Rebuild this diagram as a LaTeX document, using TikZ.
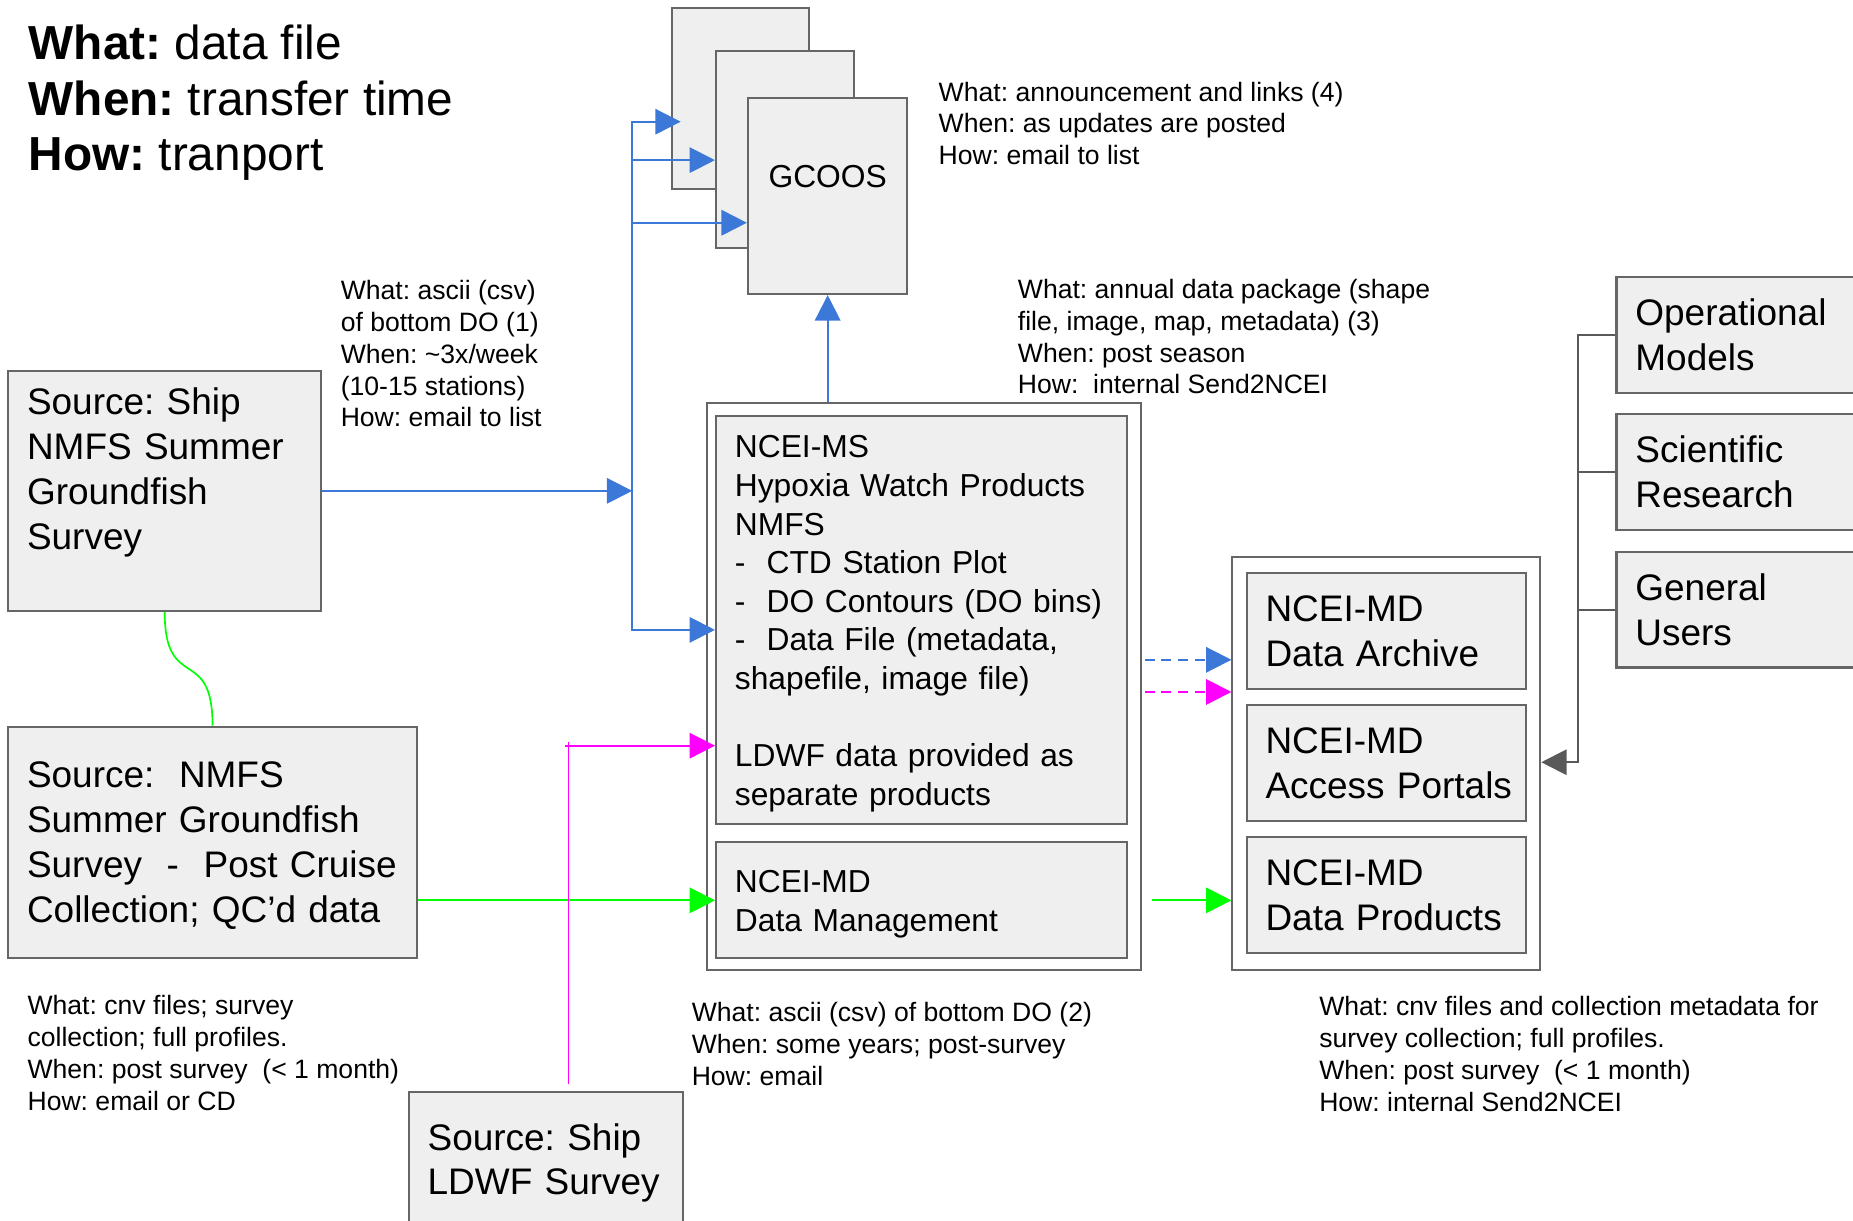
\documentclass[tikz,border=0pt]{standalone}
\usepackage{fontspec}
\setmainfont{Liberation Sans}
\frenchspacing
\hyphenpenalty=10000
\exhyphenpenalty=10000
\usetikzlibrary{arrows.meta}
\definecolor{boxfill}{HTML}{EFEFEF}
\definecolor{boxline}{HTML}{666666}
\definecolor{flowblue}{HTML}{3C78D8}
\definecolor{flowgreen}{HTML}{00FF00}
\definecolor{flowpink}{HTML}{FF00FF}
\definecolor{flowgray}{HTML}{595959}
\begin{document}
\begin{tikzpicture}[x=0.02cm,y=-0.02cm,>={Triangle[length=0.43cm,width=0.43cm]},
  box/.style={draw=boxline,fill=boxfill,line width=1pt,anchor=north west,inner xsep=0.32cm,inner ysep=0,align=left,font=\fontsize{17.8}{21.6}\selectfont},
  smallbox/.style={box,font=\fontsize{15.3}{18.6}\selectfont},
  holder/.style={draw=boxline,fill=white,line width=1pt,anchor=north west,inner sep=0},
  note/.style={anchor=north west,inner sep=0,align=left,font=\fontsize{12.8}{15.3}\selectfont},
  blueflow/.style={->,draw=flowblue,line width=1pt},
  greenflow/.style={->,draw=flowgreen,line width=1pt},
  pinkflow/.style={->,draw=flowpink,line width=1pt},
  grayflow/.style={->,draw=flowgray,line width=1pt},
  dashes/.style={dash pattern=on 4.8pt off 3.2pt}]
\useasboundingbox (0,0) rectangle (1568,1033);
\clip (0,0) rectangle (1568,1033);

\node[anchor=north west,inner sep=0,align=left,font=\fontsize{23}{26.7}\selectfont] (Legend) at (24,21) {\textbf{What:} data file\\\textbf{When:} transfer time\\\textbf{How:} tranport};

\node[box,text width=4.66cm,minimum height=4.06cm] (Ship) at (6,313) {Source: Ship\\NMFS~Summer\\Groundfish\\Survey\\~};
\node[box,text width=6.28cm,minimum height=3.92cm] (Post) at (6,614) {\rule{0pt}{15.5pt}Source:~~NMFS\\Summer~Groundfish\\Survey~~-~~Post~Cruise\\Collection;~QC’d~data};
\node[box,text width=4.0cm,minimum height=3.04cm] (LDWF) at (345,923) {Source: Ship\\LDWF~Survey\\~};

\node[box,minimum width=2.32cm,minimum height=3.06cm] (GA) at (568,6) {};
\node[box,minimum width=2.34cm,minimum height=3.34cm] (GB) at (605,42) {};
\node[smallbox,align=center,text width=2.06cm,minimum height=3.32cm] (GCOOS) at (632,82) {GCOOS\\~};

\node[holder,minimum width=7.36cm,minimum height=9.6cm] (MSO) at (597,340) {};
\node[smallbox,text width=6.32cm,minimum height=6.91cm] (MS) at (605,351) {\rule{0pt}{14.4pt}NCEI-MS\\Hypoxia~Watch~Products\\NMFS\\-~~CTD~Station~Plot\\-~~DO~Contours~(DO~bins)\\-~~Data~File~(metadata,\\shapefile,~image~file)\\[18.6pt]LDWF~data~provided~as\\separate~products};
\node[smallbox,text width=6.32cm,minimum height=1.96cm] (DM) at (605,712) {\rule{0pt}{14.4pt}NCEI-MD\\Data~Management};

\node[holder,minimum width=5.21cm,minimum height=6.99cm] (MDO) at (1042,470.5) {};
\node[box,text width=4.09cm,minimum height=1.96cm] (ARC) at (1054,484.3) {NCEI-MD\\Data~Archive};
\node[box,text width=4.09cm,minimum height=1.96cm] (POR) at (1054,595.7) {NCEI-MD\\Access~Portals};
\node[box,text width=4.09cm,minimum height=1.97cm] (PRO) at (1054,707.1) {NCEI-MD\\Data~Products};

\node[box,text width=4.56cm,minimum height=1.97cm] (OPM) at (1367,233.5) {Operational\\Models};
\node[box,text width=4.56cm,minimum height=1.96cm] (SCI) at (1367,349.7) {Scientific\\Research};
\node[box,text width=4.56cm,minimum height=1.96cm] (GEN) at (1367,466) {General\\Users};

\node[note] (ShipNote) at (288,237) {What: ascii (csv)\\of bottom DO (1)\\When: \textasciitilde3x/week\\(10-15 stations)\\How: email to list};
\node[note] (GcoosNote) at (794,69) {What: announcement and links (4)\\When: as updates are posted\\How: email to list};
\node[note] (AnnualNote) at (861,236) {What: annual data package (shape\\file, image, map, metadata) (3)\\When: post season\\How:~~internal Send2NCEI};
\node[note] (PostNote) at (23,842) {What: cnv files; survey\\collection; full profiles.\\When: post survey~~(< 1 month)\\How: email or CD};
\node[note] (AsciiNote) at (585,848) {What: ascii (csv) of bottom DO (2)\\When: some years; post-survey\\How: email};
\node[note] (ArchNote) at (1116,843) {What: cnv files and collection metadata for\\survey collection; full profiles.\\When: post survey~~(< 1 month)\\How: internal Send2NCEI};

\coordinate (T1) at (535,103);
\coordinate (T2) at (535,135.5);
\coordinate (T3) at (535,188.5);
\coordinate (T4) at (535,533);
\coordinate (MB) at (481,631);
\coordinate (H) at (1335,645);

\draw[blueflow,<->] ([xshift=0.16cm]T1 -| GA.west) -- (T1) -- (T4) -- (T4 -| MS.west);
\draw[blueflow] (T2) -- (T2 -| GB.west);
\draw[blueflow] (T3) -- (T3 -| GCOOS.west);
\draw[blueflow] (Ship.east) -- (Ship.east -| T1);
\draw[blueflow] (GCOOS.south |- MSO.north) -- (GCOOS.south);
\draw[blueflow,dashes] ([xshift=0.04cm,yshift=0.45cm]MSO.east) -- ([yshift=0.45cm]MSO.east -| MDO.west);

\draw[flowgreen,line width=0.8pt] (Ship.south) to[out=-90,in=90,looseness=1.7] (Post.north);
\draw[greenflow] (DM.west -| Post.east) -- (DM.west);
\draw[greenflow] ([xshift=0.16cm]DM.west -| MSO.east) -- (DM.west -| MDO.west);

\draw[flowpink,line width=0.6pt] ([yshift=0.11cm]MB |- LDWF.north) -- ([yshift=0.07cm]MB);
\draw[pinkflow] ([xshift=-0.06cm]MB) -- (MB -| MS.west);
\draw[pinkflow,dashes] ([xshift=0.04cm,yshift=-0.094cm]MSO.east) -- ([yshift=-0.094cm]MSO.east -| MDO.west);

\draw[grayflow] (OPM.west) -| (H) -- (H -| MDO.east);
\draw[flowgray,line width=1pt] (SCI.west) -- (SCI.west -| H);
\draw[flowgray,line width=1pt] (GEN.west) -- (GEN.west -| H);
\end{tikzpicture}
\end{document}
